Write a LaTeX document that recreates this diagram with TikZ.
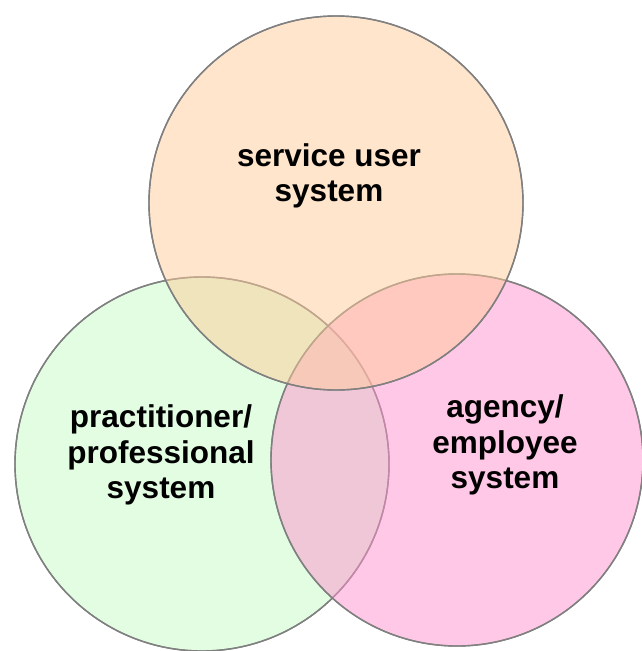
\documentclass[tikz,border=0pt]{standalone}
\usepackage{fontspec}
\setmainfont{Liberation Sans}
\usepackage{tikz}
\usetikzlibrary{positioning,calc}
\definecolor{userfill}{RGB}{255,203,153}
\definecolor{practfill}{RGB}{197,251,197}
\definecolor{agencyfill}{RGB}{255,145,205}
\definecolor{rimgray}{RGB}{128,128,128}
\tikzset{set/.style={draw=rimgray,line width=1.4pt,fill opacity=.5},
  label text/.style={font=\fontsize{31.5}{35.5}\selectfont\bfseries,align=center,inner sep=0pt}}

\begin{document}
\begin{tikzpicture}[x=1pt,y=-1pt]
\useasboundingbox (0,0) rectangle (641,651);
\coordinate (practitioner) at (202,464);
\coordinate (agency) at (457,460);
\coordinate (user) at (336,203);
\fill[practfill,set] (practitioner) circle[radius=187];
\draw[set] (practitioner) circle[radius=187];
\fill[agencyfill,set] (agency) circle[radius=186];
\draw[set] (agency) circle[radius=186];
\fill[userfill,set] (user) circle[radius=187];
\draw[set] (user) circle[radius=187];
\node[label text] (usertext) at (329,176) {service user\\system};
\node[label text] (practtext) at (161,455) {practitioner/\\professional\\system};
\node[label text] (agencytext) at (505,445) {agency/\\employee\\system};
\end{tikzpicture}
\end{document}
